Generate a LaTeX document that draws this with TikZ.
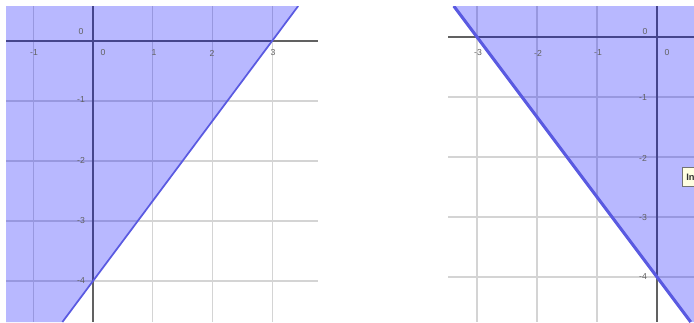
\documentclass[tikz,border=0pt]{standalone}
\usepackage{fontspec}
\setmainfont{Liberation Sans}
\begin{document}
\begin{tikzpicture}[x=0.75pt,y=-0.75pt,
  gridline/.style={draw=black!17,line width=0.8pt},
  axisline/.style={draw=black!62,line width=1.1pt},
  region/.style={fill=blue,fill opacity=0.28},
  bound/.style={draw={rgb,255:red,90;green,90;blue,225},line cap=butt},
  lbl/.style={text=black!62,font=\fontsize{6.5}{7}\selectfont,inner sep=0pt}]
\useasboundingbox (0,0) rectangle (694,322);
\clip (0,0) rectangle (694,322);
\fill[white] (0,0) rectangle (694,322);
% ---------- left plot ----------
\begin{scope}
\clip (6,6) rectangle (318,322);
\foreach \k in {-1,1,2,3} \draw[gridline] ({93+59.7*\k},6) -- ({93+59.7*\k},322);
\foreach \k in {1,2,3,4} \draw[gridline] (6,{41+60*\k}) -- (318,{41+60*\k});
\draw[axisline] (6,41) -- (318,41);
\draw[axisline] (93,6) -- (93,322);
\fill[region] (6,6) -- (298.2,6) -- (62.4,322) -- (6,322) -- cycle;
\coordinate (L1) at (298.2,6);
\coordinate (L2) at (62.4,322);
\draw[bound,line width=1.3pt] (L1) -- (L2);
\end{scope}
\node[lbl] (lo1) at (81,32) {0};
\node[lbl] (lo2) at (103,53) {0};
\node[lbl] (lxm1) at (34,53) {-1};
\node[lbl] (lx1) at (154,53) {1};
\node[lbl] (lx2) at (212,53) {2};
\node[lbl] (lx3) at (273,53) {3};
\node[lbl] (lym1) at (81,100) {-1};
\node[lbl] (lym2) at (81,160) {-2};
\node[lbl] (lym3) at (81,221) {-3};
\node[lbl] (lym4) at (81,281) {-4};
% ---------- right plot ----------
\begin{scope}
\clip (448,6) rectangle (694,322);
\foreach \k in {-3,-2,-1} \draw[gridline] ({657+60*\k},6) -- ({657+60*\k},322);
\foreach \k in {1,2,3,4} \draw[gridline] (448,{37+60*\k}) -- (694,{37+60*\k});
\draw[axisline] (448,37) -- (694,37);
\draw[axisline] (657,6) -- (657,322);
\fill[region] (453.75,6) -- (694,6) -- (694,322) -- (690.75,322) -- cycle;
\coordinate (R1) at (453.75,6);
\coordinate (R2) at (690.75,322);
\draw[bound,line width=2.3pt] (R1) -- (R2);
\end{scope}
\node[lbl] (ro1) at (645,32) {0};
\node[lbl] (ro2) at (667,53) {0};
\node[lbl] (rxm3) at (478,53) {-3};
\node[lbl] (rxm2) at (538,53) {-2};
\node[lbl] (rxm1) at (598,53) {-1};
\node[lbl] (rym1) at (643,98) {-1};
\node[lbl] (rym2) at (643,158) {-2};
\node[lbl] (rym3) at (643,218) {-3};
\node[lbl] (rym4) at (643,277) {-4};
% tooltip box
\node[draw=black!55,fill={rgb,255:red,255;green,255;blue,225},line width=0.6pt,
  anchor=north west,minimum width=24pt,minimum height=14.5pt,inner sep=1pt,
  text=black!80,font=\fontsize{7}{8}\selectfont\bfseries,align=left,text width=18pt]
  (tip) at (682,167) {In};
\end{tikzpicture}
\end{document}
